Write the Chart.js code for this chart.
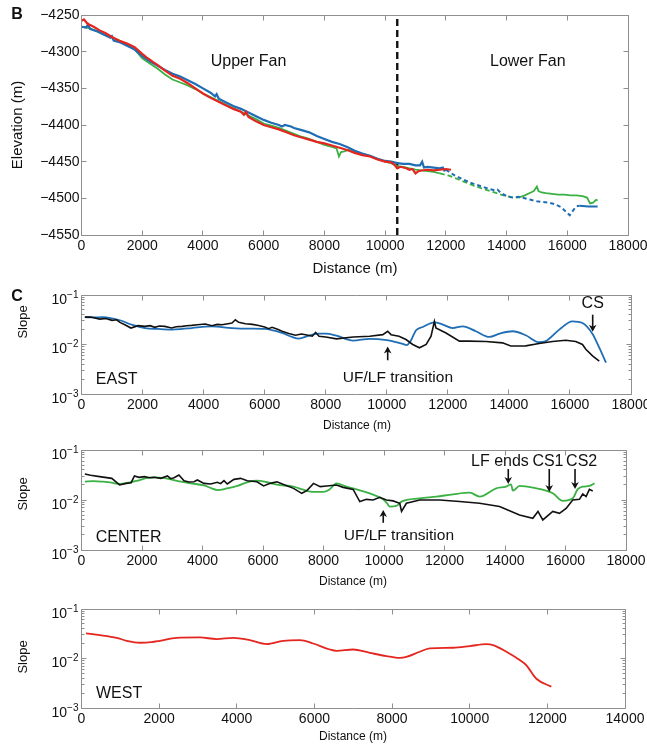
<!DOCTYPE html>
<html lang="en">
<head>
<meta charset="UTF-8">
<title>Fan elevation and slope profiles</title>
<script src="https://cdn.jsdelivr.net/npm/chart.js"></script>
<style>
  body { margin: 0; background: #fff; }
  #wrap { position: relative; width: 647px; height: 746px; }
  #wrap canvas { position: absolute; left: 0; }
</style>
</head>
<body>
<div id="wrap">
  <canvas id="chartElev" width="647" height="285" style="top:0"></canvas>
  <canvas id="chartEast" width="647" height="150" style="top:285px"></canvas>
  <canvas id="chartCenter" width="647" height="150" style="top:440px"></canvas>
  <canvas id="chartWest" width="647" height="151" style="top:595px"></canvas>
</div>
<script>
// ---- B: elevation profiles (m) ----
const elevWestDist = [0, 80, 200, 400, 600, 800, 1000, 1250, 1500, 1750, 2000, 2150, 2250, 2350, 2500, 2750, 3000, 3250, 3500, 3750, 4000, 4250, 4500, 4750, 5000, 5250, 5350, 5420, 5500, 5750, 6000, 6250, 6500, 6750, 7000, 7250, 7500, 7750, 8000, 8250, 8500, 8750, 9000, 9250, 9500, 9750, 10000, 10200, 10300, 10400, 10500, 10700, 10800, 10900, 11000, 11100, 11200, 11400, 11600, 11800, 12000, 12170];
const elevWest = [-4258, -4256, -4262, -4266, -4271, -4275, -4280, -4285, -4289, -4294, -4303, -4308, -4311, -4314, -4318, -4326, -4333, -4337, -4343, -4350, -4357, -4363, -4368, -4373, -4378, -4382, -4386, -4382, -4389, -4395, -4400, -4403, -4406, -4410, -4414, -4417, -4420, -4423, -4425, -4428, -4431, -4434, -4438, -4441, -4443, -4447, -4450, -4451, -4454, -4459, -4457, -4459, -4461, -4460, -4466, -4463, -4462, -4461, -4462, -4461, -4460, -4461];

const elevEastDist = [0, 150, 220, 280, 500, 750, 950, 1000, 1060, 1250, 1500, 1750, 2000, 2250, 2500, 2750, 3000, 3250, 3500, 3750, 4000, 4250, 4400, 4450, 4520, 4750, 5000, 5250, 5500, 5750, 6000, 6250, 6500, 6600, 6700, 6900, 7000, 7250, 7500, 7750, 8000, 8250, 8500, 8750, 9000, 9250, 9500, 9750, 10000, 10200, 10400, 10600, 10800, 11000, 11150, 11220, 11280, 11400, 11600, 11800, 11900, 11950, 12000];
const elevEast = [-4266, -4267, -4263, -4269, -4272, -4277, -4281, -4279, -4285, -4287, -4292, -4297, -4306, -4313, -4319, -4325, -4330, -4334, -4339, -4344, -4350, -4356, -4361, -4358, -4364, -4369, -4374, -4378, -4383, -4388, -4393, -4397, -4400, -4402, -4400, -4402, -4404, -4407, -4410, -4415, -4419, -4423, -4426, -4430, -4435, -4439, -4442, -4446, -4449, -4450, -4452, -4453, -4453, -4455, -4455, -4450, -4458, -4457, -4458, -4459, -4458, -4462, -4461];
const elevEastDashDist = [12000, 12300, 12600, 12900, 13200, 13400, 13600, 13700, 13800, 14000, 14200, 14400, 14600, 14800, 15000, 15200, 15400, 15600, 15800, 15950, 16080, 16200, 16300, 16400];
const elevEastDash = [-4461, -4469, -4475, -4480, -4484, -4487, -4489, -4488, -4492, -4497, -4499, -4498, -4500, -4502, -4504, -4505, -4506, -4508, -4512, -4518, -4523, -4516, -4511, -4510];
const elevEastTailDist = [16400, 16700, 17000];
const elevEastTail = [-4510, -4511, -4511];

const elevCenterDist = [0, 250, 500, 750, 1000, 1250, 1500, 1750, 2000, 2250, 2500, 2750, 3000, 3250, 3500, 3750, 4000, 4250, 4500, 4750, 5000, 5250, 5500, 5750, 6000, 6250, 6500, 6750, 7000, 7250, 7500, 7750, 8000, 8250, 8400, 8480, 8550, 8650, 8800, 9000, 9250, 9500, 9750, 10000, 10200, 10400, 10600, 10800, 11000, 11200, 11400, 11600, 11800];
const elevCenter = [-4266, -4268, -4272, -4277, -4281, -4285, -4290, -4297, -4309, -4316, -4323, -4331, -4338, -4342, -4346, -4351, -4357, -4362, -4367, -4372, -4377, -4382, -4387, -4392, -4398, -4401, -4404, -4408, -4412, -4416, -4419, -4423, -4427, -4430, -4432, -4443, -4437, -4436, -4434, -4437, -4440, -4442, -4446, -4450, -4452, -4456, -4457, -4459, -4461, -4462, -4463, -4464, -4466];
const elevCenterDashDist = [11800, 12100, 12400, 12700, 13000, 13300, 13600, 13900, 14100, 14400];
const elevCenterDash = [-4466, -4469, -4474, -4479, -4484, -4488, -4492, -4496, -4498, -4499];
const elevCenterTailDist = [14400, 14600, 14800, 14900, 15000, 15050, 15150, 15300, 15500, 15700, 15900, 16100, 16300, 16500, 16650, 16750, 16850, 16950, 17000];
const elevCenterTail = [-4499, -4496, -4492, -4490, -4484, -4490, -4492, -4493, -4494, -4495, -4495, -4496, -4496, -4497, -4499, -4507, -4506, -4502, -4503];

const transitionDistance = 10400;
const elevTicks = [-4550, -4250];

// ---- C: slope profiles ----
const eastRawDist = [110, 300, 600, 800, 1000, 1150, 1260, 1420, 1620, 1850, 2080, 2250, 2400, 2550, 2730, 2950, 3100, 3300, 3450, 3610, 3800, 4050, 4270, 4450, 4600, 4800, 4930, 5040, 5150, 5370, 5600, 5800, 6000, 6130, 6240, 6400, 6570, 6790, 7010, 7200, 7340, 7560, 7670, 7780, 8000, 8350, 8900, 9440, 9870, 10030, 10140, 10400, 10630, 10850, 11070, 11290, 11450, 11560, 11610, 11940, 12380, 12700, 13250, 13790, 14060, 14550, 14990, 15430, 15860, 16190, 16410, 16520, 16740, 16960];
const eastRawSlope = [0.0357, 0.0360, 0.0326, 0.0336, 0.0307, 0.0316, 0.0280, 0.0251, 0.0215, 0.0240, 0.0232, 0.0240, 0.0222, 0.0236, 0.0232, 0.0215, 0.0229, 0.0232, 0.0240, 0.0243, 0.0251, 0.0259, 0.0240, 0.0255, 0.0251, 0.0263, 0.0271, 0.0316, 0.0280, 0.0263, 0.0255, 0.0243, 0.0226, 0.0209, 0.0222, 0.0206, 0.0185, 0.0166, 0.0154, 0.0163, 0.0158, 0.0147, 0.0176, 0.0147, 0.0142, 0.0130, 0.0142, 0.0147, 0.0158, 0.0185, 0.0158, 0.0147, 0.0126, 0.0100, 0.0086, 0.0100, 0.0147, 0.0293, 0.0215, 0.0171, 0.0117, 0.0117, 0.0115, 0.0108, 0.0093, 0.0094, 0.0105, 0.0115, 0.0122, 0.0115, 0.0100, 0.0080, 0.0059, 0.0046];
const eastSmoothDist = [110, 400, 700, 1000, 1310, 1640, 2080, 2500, 2950, 3300, 3610, 4270, 4930, 5500, 6000, 6570, 6900, 7120, 7450, 7780, 8000, 8350, 8900, 9440, 10000, 10520, 10650, 10780, 10960, 11180, 11560, 11800, 12160, 12490, 12920, 13360, 13700, 14120, 14550, 14990, 15210, 15650, 16080, 16410, 16740, 16960, 17180];
const eastSmoothSlope = [0.0357, 0.0352, 0.0357, 0.0336, 0.0302, 0.0251, 0.0215, 0.0206, 0.0200, 0.0206, 0.0215, 0.0232, 0.0215, 0.0209, 0.0206, 0.0171, 0.0142, 0.0132, 0.0151, 0.0166, 0.0166, 0.0151, 0.0120, 0.0130, 0.0122, 0.0103, 0.0097, 0.0117, 0.0194, 0.0226, 0.0280, 0.0259, 0.0215, 0.0232, 0.0185, 0.0142, 0.0166, 0.0185, 0.0154, 0.0111, 0.0117, 0.0200, 0.0293, 0.0271, 0.0163, 0.0086, 0.0043];

const centerRawDist = [110, 300, 600, 1000, 1260, 1480, 1640, 1750, 1900, 2080, 2250, 2400, 2620, 2840, 2950, 3060, 3220, 3390, 3550, 3720, 3830, 4050, 4270, 4490, 4600, 4710, 4820, 5040, 5260, 5480, 5800, 6020, 6240, 6460, 6680, 7010, 7280, 7450, 7670, 7890, 8110, 8430, 8650, 8980, 9200, 9420, 9640, 9860, 10080, 10300, 10520, 10580, 10740, 11180, 11840, 12500, 13160, 13820, 14480, 14920, 15090, 15250, 15580, 15800, 16020, 16240, 16460, 16570, 16680, 16790, 16900];
const centerRawSlope = [0.0331, 0.0312, 0.0293, 0.0271, 0.0200, 0.0215, 0.0222, 0.0302, 0.0284, 0.0293, 0.0279, 0.0284, 0.0271, 0.0302, 0.0267, 0.0279, 0.0316, 0.0243, 0.0229, 0.0232, 0.0251, 0.0215, 0.0209, 0.0226, 0.0212, 0.0243, 0.0209, 0.0259, 0.0271, 0.0243, 0.0232, 0.0191, 0.0215, 0.0232, 0.0205, 0.0171, 0.0136, 0.0154, 0.0215, 0.0185, 0.0191, 0.0200, 0.0179, 0.0163, 0.0093, 0.0103, 0.0100, 0.0113, 0.0100, 0.0096, 0.0086, 0.0059, 0.0086, 0.0100, 0.0100, 0.0093, 0.0086, 0.0074, 0.0050, 0.0043, 0.0059, 0.0040, 0.0059, 0.0054, 0.0068, 0.0100, 0.0103, 0.0132, 0.0117, 0.0163, 0.0151];
const centerSmoothDist = [110, 400, 710, 1000, 1260, 1600, 1860, 2100, 2400, 2700, 2950, 3300, 3610, 4050, 4300, 4500, 4800, 5150, 5500, 5800, 6100, 6460, 7010, 7300, 7560, 8000, 8200, 8430, 8760, 8980, 9530, 9970, 10100, 10190, 10410, 10580, 11180, 11730, 12280, 12840, 13160, 13710, 14040, 14200, 14260, 14480, 14920, 15580, 15910, 16240, 16400, 16570, 16790, 16960];
const centerSmoothSlope = [0.0232, 0.0239, 0.0232, 0.0222, 0.0209, 0.0226, 0.0243, 0.0271, 0.0284, 0.0276, 0.0259, 0.0232, 0.0215, 0.0196, 0.0171, 0.0158, 0.0170, 0.0191, 0.0229, 0.0243, 0.0229, 0.0203, 0.0185, 0.0163, 0.0147, 0.0145, 0.0163, 0.0215, 0.0185, 0.0171, 0.0136, 0.0103, 0.0086, 0.0074, 0.0076, 0.0093, 0.0108, 0.0117, 0.0130, 0.0140, 0.0117, 0.0171, 0.0185, 0.0205, 0.0154, 0.0191, 0.0176, 0.0136, 0.0096, 0.0108, 0.0163, 0.0185, 0.0191, 0.0215];

const westDist = [116, 476, 905, 1163, 1506, 1800, 2020, 2450, 3050, 3480, 3908, 4337, 4767, 5194, 5624, 5967, 6396, 6568, 6997, 7426, 7855, 8200, 8370, 8714, 8971, 9572, 10000, 10430, 10600, 10945, 11288, 11460, 11717, 12103];
const westSlope = [0.0321, 0.0297, 0.0262, 0.0228, 0.0208, 0.0214, 0.0228, 0.0262, 0.0266, 0.0247, 0.0262, 0.0235, 0.0195, 0.0228, 0.0235, 0.0201, 0.0152, 0.0143, 0.0152, 0.0130, 0.0112, 0.0103, 0.0108, 0.0137, 0.0160, 0.0165, 0.0178, 0.0195, 0.0187, 0.0137, 0.0093, 0.0073, 0.0039, 0.0027];

const slopeRange = [0.001, 0.1];

const FONT = "'Liberation Sans', Arial, Helvetica, sans-serif";
const AXIS_COLOR = '#8f8f8f';
const TEXT_COLOR = '#111';
const BLUE = '#1f6db4', RED = '#e4261f', GREEN = '#3bb143', BLACK = '#111';

const pts = (xs, ys) => xs.map((x, i) => ({ x, y: ys[i] }));

function line(data, color, width, extra) {
    return Object.assign({ data, borderColor: color, borderWidth: width, pointRadius: 0, tension: 0, fill: false }, extra || {});
}

// draws the box, inward ticks, log labels and annotations
function framePlugin(cfg) {
    return {
        id: 'frame',
        afterDraw(chart) {
            const { ctx, chartArea: a, scales: { x, y } } = chart;
            const L = Math.floor(a.left) + 0.5, R = Math.floor(a.right) + 0.5;
            const T = Math.floor(a.top) + 0.5, B = Math.floor(a.bottom) + 0.5;
            ctx.save();
            ctx.strokeStyle = AXIS_COLOR;
            ctx.lineWidth = 1;
            ctx.beginPath();
            ctx.rect(L, T, R - L, B - T);
            const seg = (x1, y1, x2, y2) => { ctx.moveTo(x1, y1); ctx.lineTo(x2, y2); };
            x.ticks.forEach(t => {
                const px = Math.floor(x.getPixelForValue(t.value)) + 0.5;
                seg(px, B, px, B - 5);
                seg(px, T, px, T + 5);
            });
            if (cfg.log) {
                for (let e = -3; e < -1 + 1e-9; e++) {
                    for (let m = 1; m <= 9; m++) {
                        const v = m * Math.pow(10, e);
                        if (v > slopeRange[1] * 1.0001) break;
                        const py = Math.floor(y.getPixelForValue(v)) + 0.5;
                        const len = m === 1 ? 5 : 3;
                        seg(L, py, L + len, py);
                        seg(R, py, R - len, py);
                    }
                }
            } else {
                y.ticks.forEach(t => {
                    const py = Math.floor(y.getPixelForValue(t.value)) + 0.5;
                    seg(L, py, L + 5, py);
                    seg(R, py, R - 5, py);
                });
            }
            ctx.stroke();

            ctx.fillStyle = TEXT_COLOR;
            // decade labels 10^-n
            if (cfg.log) {
                [0.1, 0.01, 0.001].forEach(v => {
                    const py = y.getPixelForValue(v);
                    const sup = '\u2212' + Math.abs(Math.round(Math.log10(v)));
                    ctx.textAlign = 'right';
                    ctx.textBaseline = 'middle';
                    ctx.font = `10px ${FONT}`;
                    const sw = ctx.measureText(sup).width;
                    const xr = a.left - 3;
                    ctx.fillText(sup, xr, py);
                    ctx.font = `14px ${FONT}`;
                    ctx.fillText('10', xr - sw, py + 5);
                });
            }
            // notes in data coordinates
            (cfg.notes || []).forEach(n => {
                ctx.font = `${n.size || 16}px ${FONT}`;
                ctx.textAlign = n.align || 'center';
                ctx.textBaseline = 'middle';
                ctx.fillText(n.text, x.getPixelForValue(n.x), y.getPixelForValue(n.y));
            });
            // arrows in data coordinates: tail at n.from, tip at n.to
            ctx.strokeStyle = BLACK;
            ctx.fillStyle = BLACK;
            (cfg.arrows || []).forEach(n => {
                const px = x.getPixelForValue(n.x);
                const fy = y.getPixelForValue(n.from), ty = y.getPixelForValue(n.to);
                const dir = ty > fy ? 1 : -1;
                ctx.lineWidth = 1.6;
                ctx.beginPath();
                ctx.moveTo(px, fy);
                ctx.lineTo(px, ty - dir * 4);
                ctx.stroke();
                ctx.beginPath();
                ctx.moveTo(px, ty);
                ctx.lineTo(px - 3.8, ty - dir * 7);
                ctx.lineTo(px, ty - dir * 5);
                ctx.lineTo(px + 3.8, ty - dir * 7);
                ctx.closePath();
                ctx.fill();
            });
            // titles in canvas pixels
            ctx.fillStyle = TEXT_COLOR;
            (cfg.texts || []).forEach(t => {
                ctx.save();
                ctx.font = `${t.bold ? 'bold ' : ''}${t.size}px ${FONT}`;
                ctx.textAlign = 'center';
                ctx.textBaseline = 'middle';
                ctx.translate(t.x, t.y);
                if (t.rot) ctx.rotate(t.rot);
                ctx.fillText(t.text, 0, 0);
                ctx.restore();
            });
            ctx.restore();
        }
    };
}

function makeChart(id, o) {
    const canvas = document.getElementById(id);
    const W = canvas.width, H = canvas.height;
    const [left, top, right, bottom] = o.box;
    const yScale = o.log
        ? { type: 'logarithmic', min: slopeRange[0], max: slopeRange[1], ticks: { display: false } }
        : {
            type: 'linear', min: elevTicks[0], max: elevTicks[1],
            ticks: {
                stepSize: 50, padding: 2, color: TEXT_COLOR, font: { family: FONT, size: 14 },
                callback: v => String(v).replace('-', '\u2212')
            }
        };
    Object.assign(yScale, {
        grid: { display: false, drawTicks: false },
        border: { display: false },
        afterFit: s => { s.width = left; s.paddingTop = 0; s.paddingBottom = 0; }
    });
    return new Chart(canvas, {
        type: 'line',
        data: { datasets: o.datasets },
        options: {
            responsive: false,
            animation: false,
            events: [],
            layout: { padding: { left: 0, top: top, right: W - right, bottom: 0 } },
            plugins: { legend: { display: false }, tooltip: { enabled: false } },
            scales: {
                x: {
                    type: 'linear', min: 0, max: o.xMax,
                    grid: { display: false, drawTicks: false },
                    border: { display: false },
                    ticks: {
                        stepSize: 2000, padding: 3, maxRotation: 0, autoSkip: false,
                        color: TEXT_COLOR, font: { family: FONT, size: 14 },
                        callback: v => String(v)
                    },
                    afterFit: s => { s.height = H - bottom; s.paddingLeft = 0; s.paddingRight = 0; }
                },
                y: yScale
            }
        },
        plugins: [framePlugin(o)]
    });
}

// B: elevation
makeChart('chartElev', {
    box: [81.5, 15, 628, 235],
    xMax: 18000,
    datasets: [
        line(pts(elevWestDist, elevWest), RED, 2.2),
        line(pts(elevEastDist, elevEast), BLUE, 2.2),
        line(pts(elevEastDashDist, elevEastDash), BLUE, 2, { borderDash: [4, 3] }),
        line(pts(elevEastTailDist, elevEastTail), BLUE, 2),
        line(pts(elevCenterDist, elevCenter), GREEN, 1.8),
        line(pts(elevCenterDashDist, elevCenterDash), GREEN, 1.8, { borderDash: [5, 3] }),
        line(pts(elevCenterTailDist, elevCenterTail), GREEN, 1.8),
        line(pts([transitionDistance, transitionDistance], elevTicks), BLACK, 2.4, { borderDash: [7, 4] })
    ],
    notes: [
        { text: 'Upper Fan', x: 5500, y: -4314 },
        { text: 'Lower Fan', x: 14700, y: -4314 }
    ],
    texts: [
        { text: 'B', x: 17, y: 15, size: 16, bold: true },
        { text: 'Elevation (m)', x: 17.5, y: 125, size: 15, rot: -Math.PI / 2 },
        { text: 'Distance (m)', x: 355, y: 269, size: 15 }
    ]
});

// C: EAST
makeChart('chartEast', {
    box: [81.5, 10, 631, 109],
    xMax: 18000,
    log: true,
    datasets: [
        line(pts(eastRawDist, eastRawSlope), BLACK, 1.6),
        line(pts(eastSmoothDist, eastSmoothSlope), BLUE, 1.8, { cubicInterpolationMode: 'monotone' })
    ],
    notes: [
        { text: 'EAST', x: 470, y: 0.002, align: 'left' },
        { text: 'UF/LF transition', x: 10365, y: 0.0021, size: 15.5 },
        { text: 'CS', x: 16745, y: 0.066 }
    ],
    arrows: [
        { x: 10030, from: 0.0048, to: 0.0091 },
        { x: 16745, from: 0.040, to: 0.0182 }
    ],
    texts: [
        { text: 'C', x: 17, y: 12, size: 16, bold: true },
        { text: 'Slope', x: 23, y: 37, size: 13, rot: -Math.PI / 2 },
        { text: 'Distance (m)', x: 357, y: 141, size: 12 }
    ]
});

// C: CENTER
makeChart('chartCenter', {
    box: [81.5, 10, 626, 110],
    xMax: 18000,
    log: true,
    datasets: [
        line(pts(centerRawDist, centerRawSlope), BLACK, 1.6),
        line(pts(centerSmoothDist, centerSmoothSlope), GREEN, 1.8, { cubicInterpolationMode: 'monotone' })
    ],
    notes: [
        { text: 'CENTER', x: 473, y: 0.0018, align: 'left' },
        { text: 'UF/LF transition', x: 10492, y: 0.0019, size: 15.5 },
        { text: 'LF ends', x: 13833, y: 0.0575 },
        { text: 'CS1', x: 15420, y: 0.0575 },
        { text: 'CS2', x: 16534, y: 0.0575 }
    ],
    arrows: [
        { x: 9975, from: 0.0035, to: 0.0063 },
        { x: 14108, from: 0.0417, to: 0.0209 },
        { x: 15463, from: 0.0417, to: 0.0145 },
        { x: 16315, from: 0.0417, to: 0.0166 }
    ],
    texts: [
        { text: 'Slope', x: 23, y: 54, size: 13, rot: -Math.PI / 2 },
        { text: 'Distance (m)', x: 353, y: 142, size: 12 }
    ]
});

// C: WEST
makeChart('chartWest', {
    box: [81.5, 14, 625, 113],
    xMax: 14000,
    log: true,
    datasets: [
        line(pts(westDist, westSlope), RED, 1.8, { cubicInterpolationMode: 'monotone' })
    ],
    notes: [
        { text: 'WEST', x: 373, y: 0.002, align: 'left' }
    ],
    texts: [
        { text: 'Slope', x: 23, y: 62, size: 13, rot: -Math.PI / 2 },
        { text: 'Distance (m)', x: 353, y: 142, size: 12 }
    ]
});
</script>
</body>
</html>
